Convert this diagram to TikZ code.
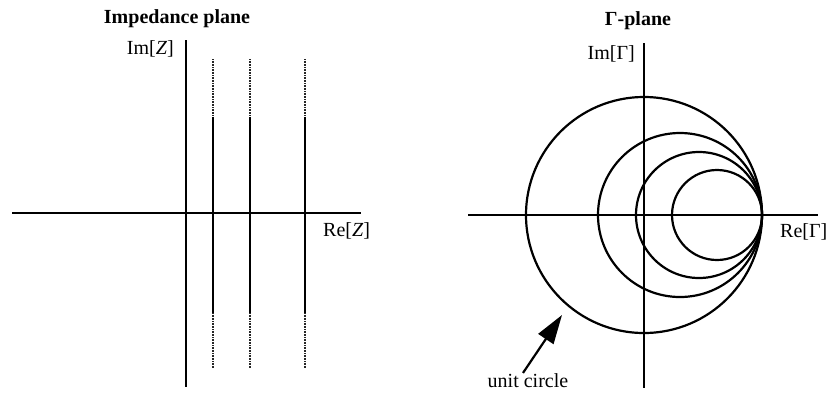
\documentclass[tikz,border=0pt]{standalone}
\usepackage{fontspec}
\setmainfont{Liberation Serif}
\usetikzlibrary{arrows.meta}
\tikzset{
  axisline/.style={line width=2.2pt},
  curve/.style={line width=2.2pt},
  dotpart/.style={line width=2pt, dash pattern=on 0.9pt off 0.7pt, black!85},
  lbl/.style={font=\fontsize{20}{22}\selectfont, inner sep=0pt, anchor=base},
  ttl/.style={font=\fontsize{20}{22}\selectfont\bfseries, inner sep=0pt, anchor=base},
}
\begin{document}
\begin{tikzpicture}[x=1pt,y=-1pt]
\useasboundingbox (0,0) rectangle (826,392);
% ---------- Impedance plane ----------
\node[ttl] (t1) at (177,23) {Impedance plane};
\coordinate (hl) at (12,213);
\coordinate (hr) at (361,213);
\coordinate (vt) at (186,40);
\coordinate (vb) at (186,387);
\draw[axisline] (hl) -- (hr);
\draw[axisline] (vt) -- (vb);
\node[lbl, anchor=base east] (imz) at (174,54) {Im[\textit{Z}]};
\node[lbl, anchor=base west] (rez) at (323,236) {Re[\textit{Z}]};
\foreach \x/\n in {213/a,250/b,305/c}{
  \coordinate (\n1) at (\x,59);
  \coordinate (\n2) at (\x,117);
  \coordinate (\n3) at (\x,313);
  \coordinate (\n4) at (\x,368);
  \draw[dotpart] (\n1) -- (\n2);
  \draw[axisline] (\n2) -- (\n3);
  \draw[dotpart] (\n3) -- (\n4);
}
% ---------- Gamma plane ----------
\node[ttl] (t2) at (638,25) {Γ-plane};
\coordinate (ghl) at (468,215);
\coordinate (ghr) at (818,215);
\coordinate (gvt) at (644,43);
\coordinate (gvb) at (644,388);
\draw[axisline] (ghl) -- (ghr);
\draw[axisline] (gvt) -- (gvb);
\node[lbl, anchor=base east] (img) at (635,59) {Im[Γ]};
\node[lbl, anchor=base west] (reg) at (780,237) {Re[Γ]};
\draw[curve] (644,215) circle[radius=118];
\draw[curve] (680,215) circle[radius=82];
\draw[curve] (699,215) circle[radius=63];
\draw[curve] (717,215) circle[radius=45];
\node[lbl] (uc) at (528,387) {unit circle};
\coordinate (tip) at (562,315);
\draw[line width=2.2pt, -{Triangle[length=29pt,width=18pt]}] ([xshift=-5pt]uc.north) -- (tip);
\end{tikzpicture}
\end{document}
